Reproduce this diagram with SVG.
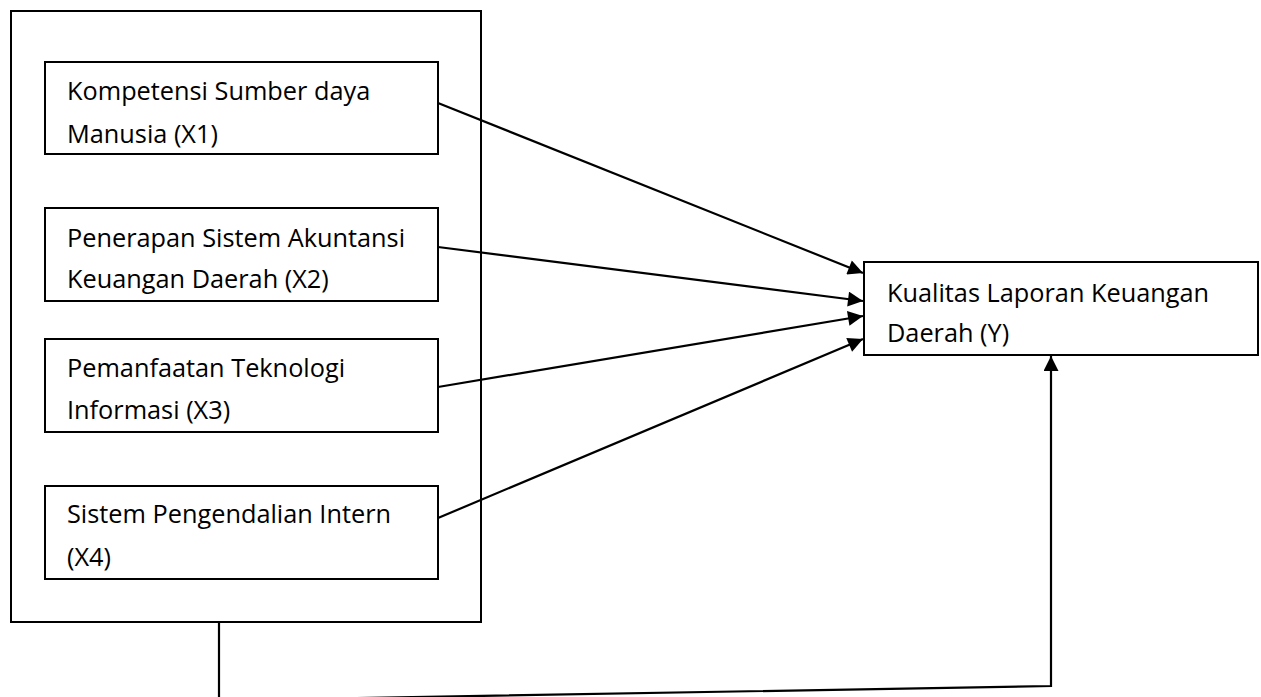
<svg xmlns="http://www.w3.org/2000/svg" width="1261" height="697" viewBox="0 0 1261 697">
<style>
.box{fill:#fff;stroke:#000;stroke-width:2}
.frame{fill:none;stroke:#000;stroke-width:2}
.t{font-family:"Open Sans","Liberation Sans",sans-serif;font-size:25.3px;fill:#000}
.c{fill:none;stroke:#000;stroke-width:2.2}
</style>
<defs>
<marker id="ah" viewBox="0 0 10 10" refX="10" refY="5" markerUnits="userSpaceOnUse" markerWidth="17" markerHeight="15" orient="auto">
<path d="M0,0 L10,5 L0,10 z" fill="#000"/>
</marker>
</defs>
<g id="outer-group"><rect class="frame" x="11" y="11" width="470" height="611"/></g>
<g id="x1"><rect class="box" x="45" y="62" width="393" height="92"/>
<text class="t" x="67" y="100">Kompetensi Sumber daya</text>
<text class="t" x="67" y="143">Manusia (X1)</text></g>
<g id="x2"><rect class="box" x="45" y="208" width="393" height="93"/>
<text class="t" x="67" y="247">Penerapan Sistem Akuntansi</text>
<text class="t" x="67" y="288">Keuangan Daerah (X2)</text></g>
<g id="x3"><rect class="box" x="45" y="339" width="393" height="93"/>
<text class="t" x="67" y="377">Pemanfaatan Teknologi</text>
<text class="t" x="67" y="419">Informasi (X3)</text></g>
<g id="x4"><rect class="box" x="45" y="486" width="393" height="93"/>
<text class="t" x="67" y="523">Sistem Pengendalian Intern</text>
<text class="t" x="67" y="566">(X4)</text></g>
<g id="y"><rect class="box" x="864" y="262" width="394" height="93"/>
<text class="t" x="887" y="302">Kualitas Laporan Keuangan</text>
<text class="t" x="887" y="342">Daerah (Y)</text></g>
<g id="connectors">
<line class="c" x1="438" y1="103" x2="863" y2="273" marker-end="url(#ah)"/>
<line class="c" x1="438" y1="247" x2="863" y2="301" marker-end="url(#ah)"/>
<line class="c" x1="438" y1="387" x2="863" y2="316" marker-end="url(#ah)"/>
<line class="c" x1="438" y1="518" x2="863" y2="339" marker-end="url(#ah)"/>
<polyline class="c" points="219,622 219,700.5 1051,686 1051,356" marker-end="url(#ah)"/>
</g>
</svg>
